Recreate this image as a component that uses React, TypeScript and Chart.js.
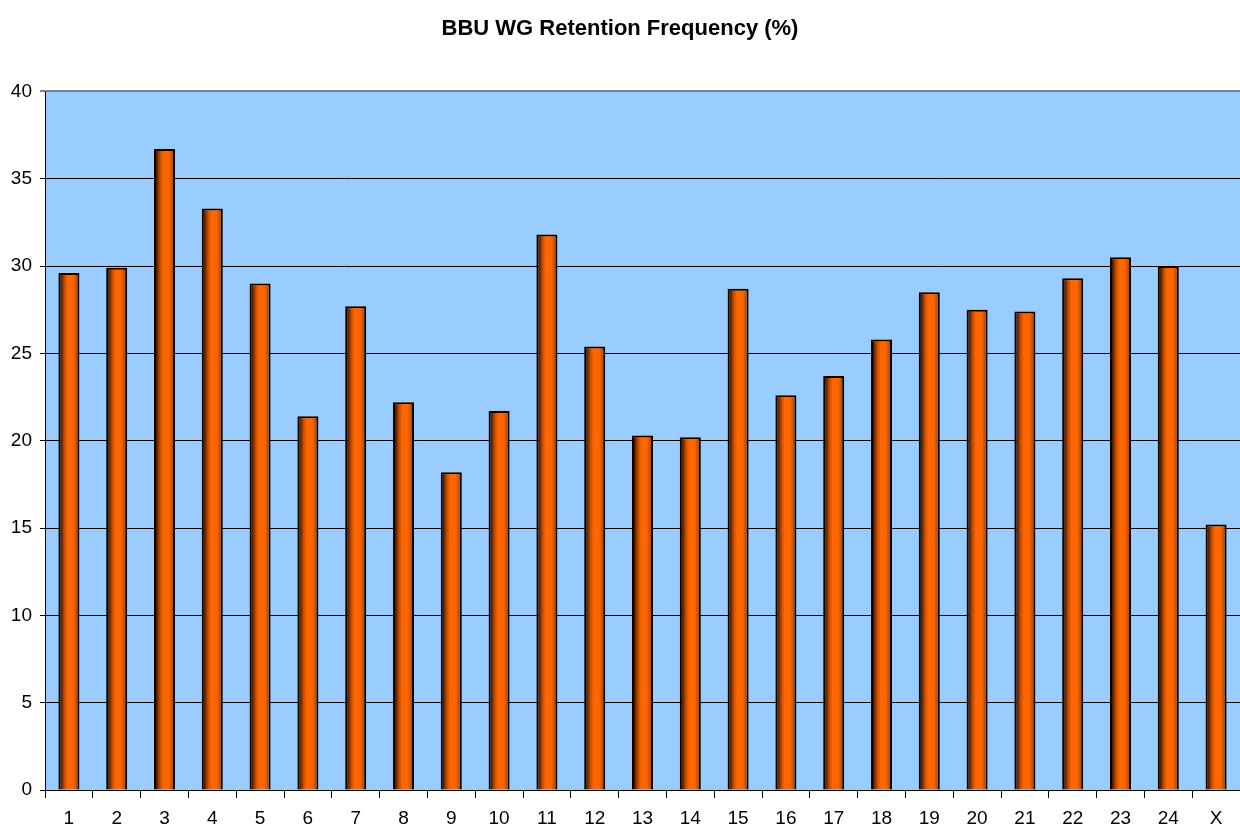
import React, { useEffect, useRef } from "react";
import { Chart, registerables } from "chart.js";

Chart.register(...registerables);

const chartTitle = "BBU WG Retention Frequency (%)";
const categories = [
  "1", "2", "3", "4", "5", "6", "7", "8", "9", "10", "11", "12",
  "13", "14", "15", "16", "17", "18", "19", "20", "21", "22", "23", "24", "X",
];
const retention = [
  29.6, 29.9, 36.7, 33.3, 29.0, 21.4, 27.7, 22.2, 18.2, 21.7, 31.8, 25.4,
  20.3, 20.2, 28.7, 22.6, 23.7, 25.8, 28.5, 27.5, 27.4, 29.3, 30.5, 30.0, 15.2,
];
const yMin = 0;
const yMax = 40;
const yStep = 5;

const BAR_PCT = 0.44;
const FONT = "'Liberation Sans', Arial, sans-serif";

const plotBackground = {
  id: "plotBackground",
  beforeDraw(chart: any) {
    const { ctx, chartArea } = chart;
    if (!chartArea) return;
    ctx.save();
    ctx.fillStyle = "#99CCFF";
    ctx.fillRect(chartArea.left, chartArea.top, chartArea.right - chartArea.left, chartArea.bottom - chartArea.top);
    ctx.restore();
  },
};

export default function App() {
  const canvasRef = useRef<HTMLCanvasElement | null>(null);

  useEffect(() => {
    document.body.style.margin = "0";
    document.body.style.overflow = "hidden";
    const canvas = canvasRef.current;
    if (!canvas) return;

    const barFill = (c: any) => {
      const chart = c.chart;
      const xs = chart.scales && chart.scales.x;
      if (!xs || c.dataIndex === undefined || !chart.chartArea) return "#FF6600";
      const center = xs.getPixelForValue(c.dataIndex);
      const half = ((xs.width / categories.length) * BAR_PCT) / 2;
      const g = chart.ctx.createLinearGradient(center - half, 0, center + half, 0);
      g.addColorStop(0, "#140500");
      g.addColorStop(0.12, "#4e1c00");
      g.addColorStop(0.3, "#c84f00");
      g.addColorStop(0.45, "#ff6600");
      g.addColorStop(0.7, "#ff6600");
      g.addColorStop(0.88, "#c24c00");
      g.addColorStop(1, "#632600");
      return g;
    };

    const chart = new Chart(canvas, {
      type: "bar",
      data: {
        labels: categories,
        datasets: [
          {
            label: chartTitle,
            data: retention,
            backgroundColor: barFill,
            borderColor: "#000000",
            borderWidth: 2,
            barPercentage: BAR_PCT,
            categoryPercentage: 1,
          },
        ],
      },
      plugins: [plotBackground],
      options: {
        animation: false,
        responsive: false,
        devicePixelRatio: 1,
        layout: { padding: { left: 0, right: 0, top: 0, bottom: 0 } },
        plugins: {
          legend: { display: false },
          tooltip: { enabled: false },
          title: {
            display: true,
            text: chartTitle,
            color: "#000000",
            font: { family: FONT, size: 22, weight: "bold" },
            padding: { top: 16, bottom: 49 },
          },
        },
        scales: {
          x: {
            offset: true,
            grid: {
              display: true,
              offset: true,
              drawOnChartArea: false,
              drawTicks: true,
              tickLength: 8,
              color: "#000000",
            },
            border: { display: true, color: "#000000", width: 1 },
            ticks: {
              color: "#000000",
              font: { family: FONT, size: 19 },
              padding: 9,
              maxRotation: 0,
              autoSkip: false,
            },
            afterFit: (scale: any) => {
              scale.height = 35;
            },
          },
          y: {
            min: yMin,
            max: yMax,
            grid: {
              color: (c: any) => (c.tick && c.tick.value === yMax ? "#808080" : "#000000"),
              lineWidth: (c: any) => (c.tick && c.tick.value === yMax ? 2 : 1),
              drawTicks: true,
              tickLength: 5,
            },
            border: { display: true, color: "#000000", width: 1 },
            ticks: {
              stepSize: yStep,
              color: "#000000",
              font: { family: FONT, size: 19 },
              padding: 8,
            },
            afterFit: (scale: any) => {
              scale.width = 45;
            },
          },
        },
      },
    });

    return () => {
      chart.destroy();
    };
  }, []);

  return (
    <div style={{ width: 1240, height: 825, background: "#ffffff" }}>
      <canvas ref={canvasRef} width={1240} height={825} style={{ display: "block" }} />
    </div>
  );
}
